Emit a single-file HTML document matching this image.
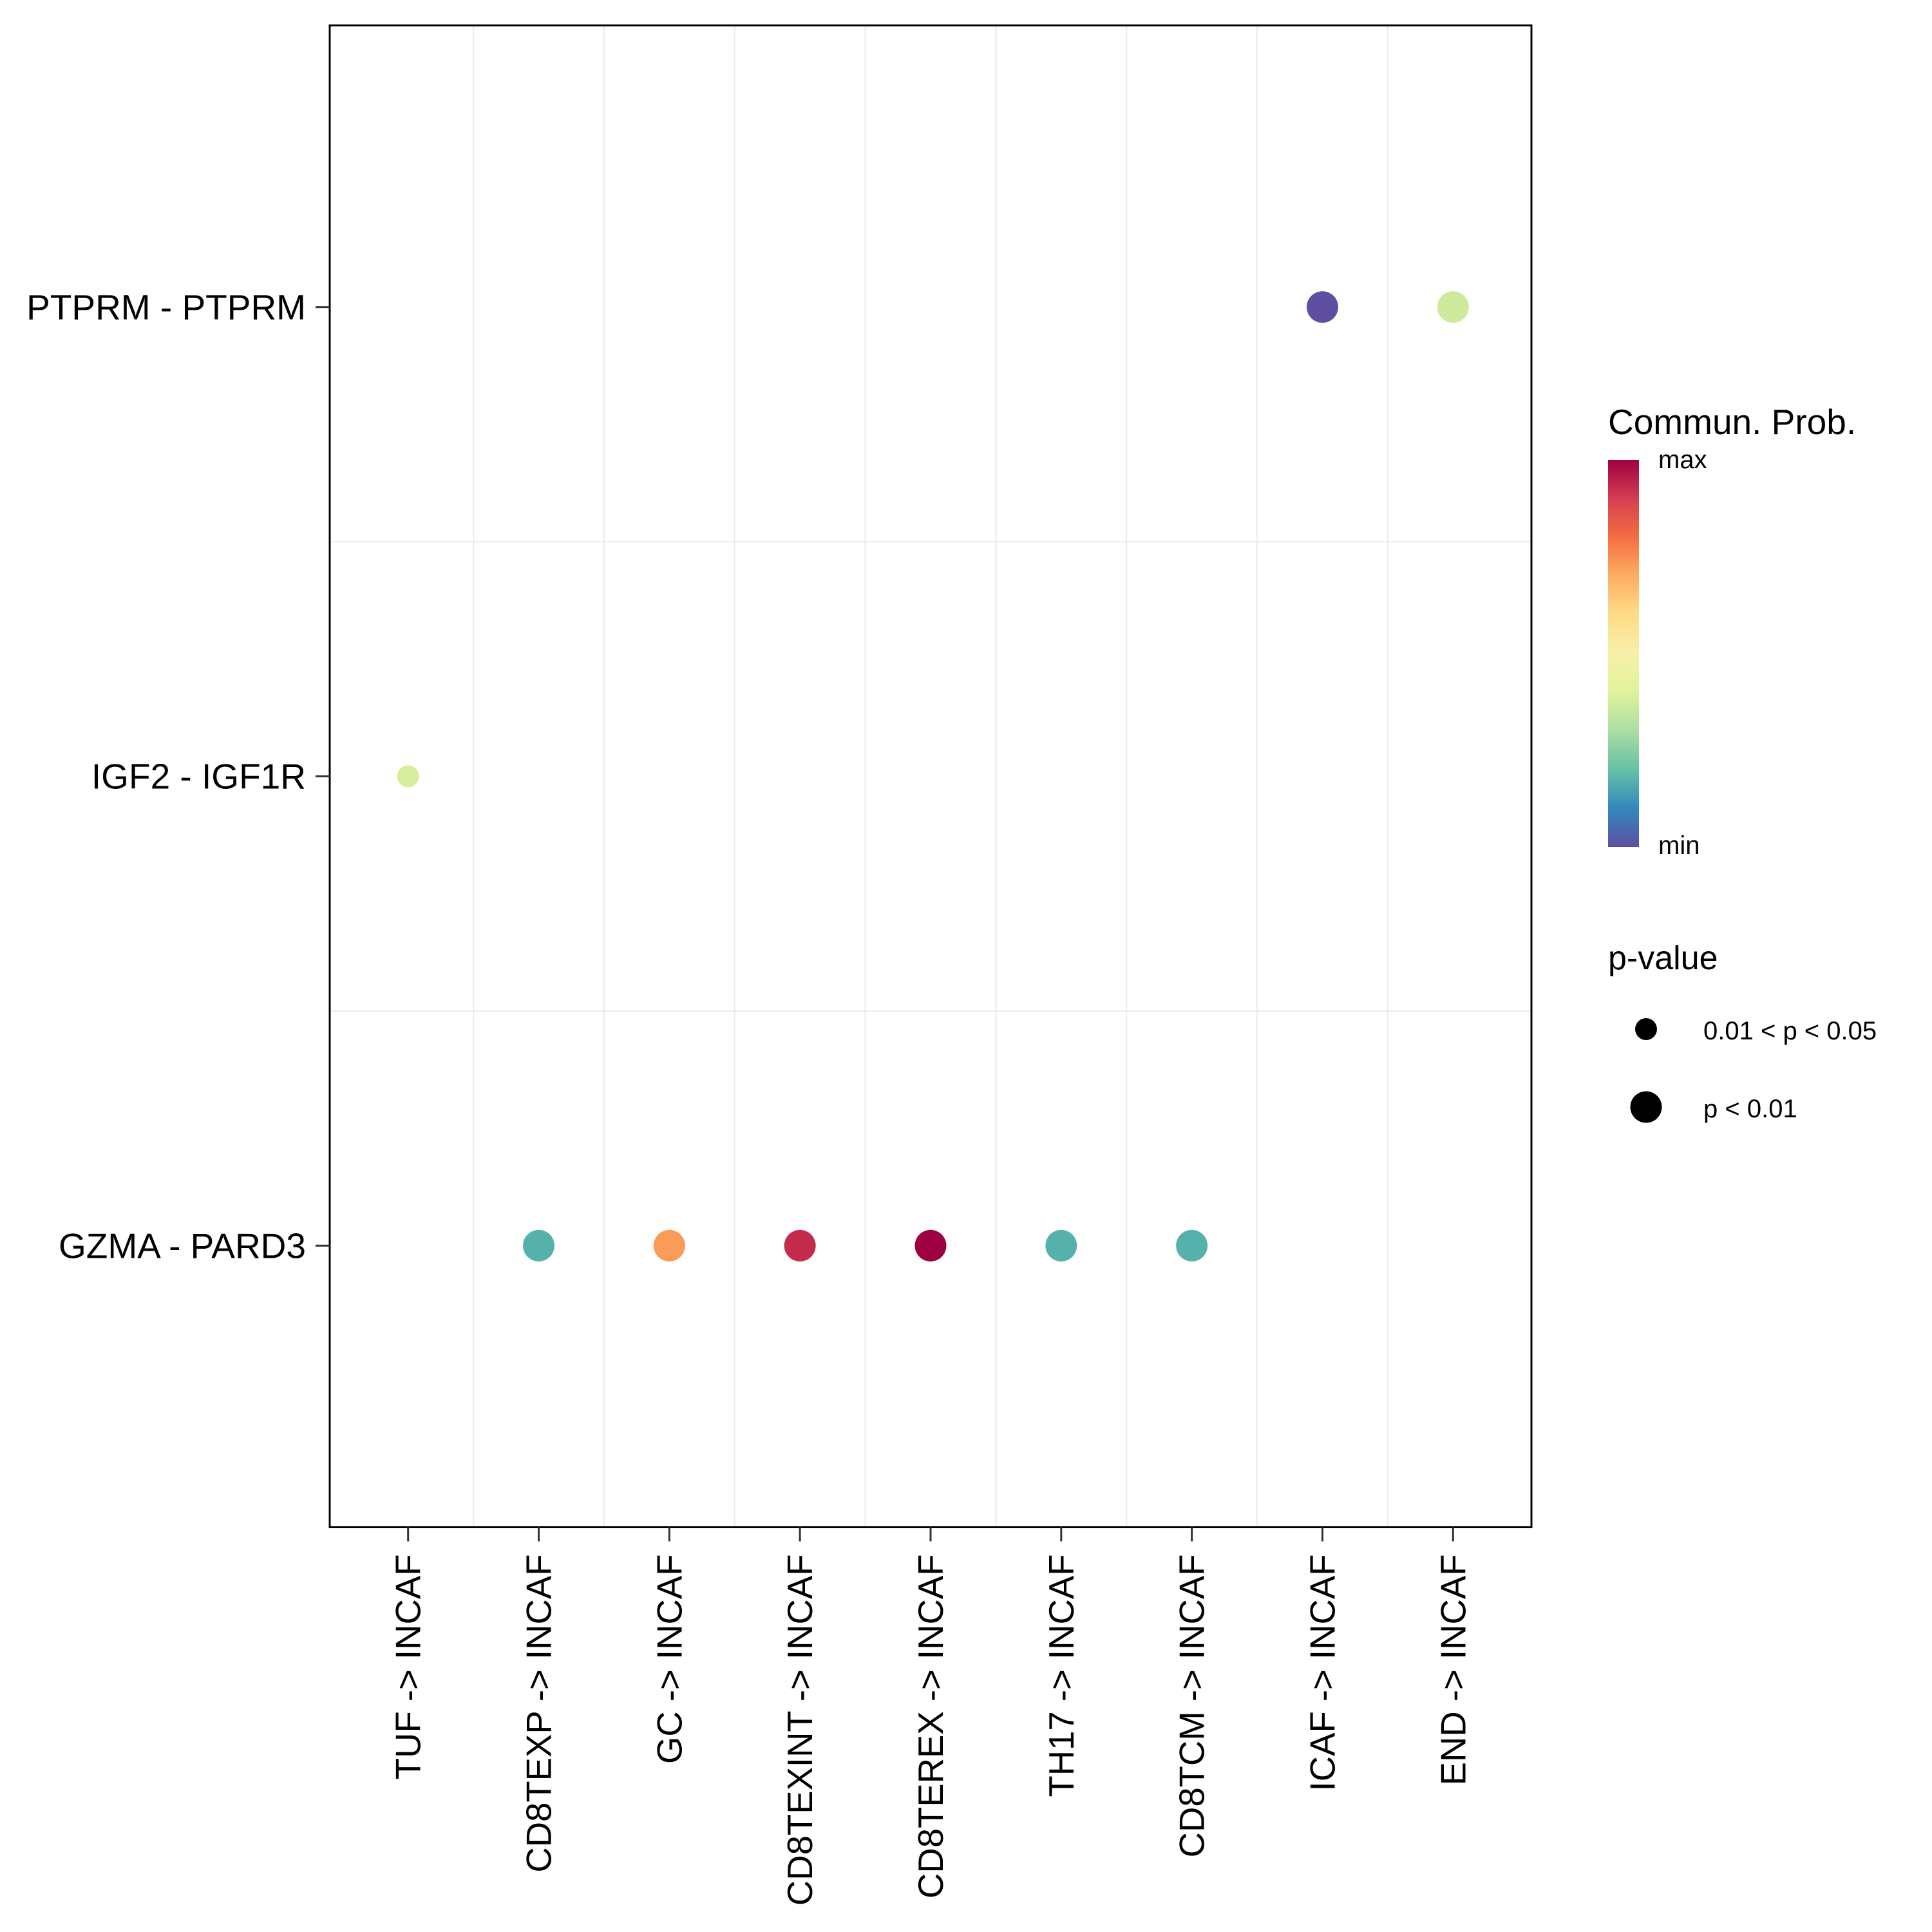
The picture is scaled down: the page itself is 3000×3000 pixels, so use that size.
<!DOCTYPE html>
<html><head><meta charset="utf-8"><style>
html,body{margin:0;padding:0;background:#fff;}
svg{display:block;font-family:"Liberation Sans",Arial,sans-serif;}
</style></head><body>
<svg id="chart" width="3000" height="3000" viewBox="0 0 3000 3000" xmlns="http://www.w3.org/2000/svg">
<defs>
<linearGradient id="spec" x1="0" y1="1" x2="0" y2="0">
<stop offset="0" stop-color="#5e4fa2"/><stop offset="0.1" stop-color="#3288bd"/><stop offset="0.2" stop-color="#66c2a5"/><stop offset="0.3" stop-color="#abdda4"/><stop offset="0.4" stop-color="#e0f39a"/><stop offset="0.5" stop-color="#f8f0a8"/><stop offset="0.6" stop-color="#fddc88"/><stop offset="0.7" stop-color="#fdae61"/><stop offset="0.8" stop-color="#f46d43"/><stop offset="0.9" stop-color="#d53e4f"/><stop offset="1" stop-color="#9e0142"/>
</linearGradient>
</defs>
<rect x="0" y="0" width="3000" height="3000" fill="#fff"/>
<g id="grid"></g>
<g id="dots"></g>
<rect x="512" y="39.5" width="1866" height="2332" fill="none" stroke="#000" stroke-width="3"/>
<g id="axes"></g>
<g>
<text x="2497" y="674" font-size="55">Commun. Prob.</text>
<rect x="2497" y="714" width="48" height="601" fill="url(#spec)"/>
<text x="2575" y="727" font-size="40">max</text>
<text x="2575" y="1326" font-size="40">min</text>
</g>
<g>
<text x="2497" y="1505" font-size="52">p-value</text>
<circle cx="2556" cy="1598" r="17" fill="#000"/>
<text x="2645" y="1614" font-size="40">0.01 &lt; p &lt; 0.05</text>
<circle cx="2556" cy="1719" r="24.5" fill="#000"/>
<text x="2645" y="1735" font-size="40">p &lt; 0.01</text>
</g>
</svg>
<script>
const xCats = ["TUF -> INCAF","CD8TEXP -> INCAF","GC -> INCAF","CD8TEXINT -> INCAF","CD8TEREX -> INCAF","TH17 -> INCAF","CD8TCM -> INCAF","ICAF -> INCAF","END -> INCAF"];
const yCats = ["PTPRM - PTPRM","IGF2 - IGF1R","GZMA - PARD3"];
const pointX = ["ICAF -> INCAF","END -> INCAF","TUF -> INCAF","CD8TEXP -> INCAF","GC -> INCAF","CD8TEXINT -> INCAF","CD8TEREX -> INCAF","TH17 -> INCAF","CD8TCM -> INCAF"];
const pointY = ["PTPRM - PTPRM","PTPRM - PTPRM","IGF2 - IGF1R","GZMA - PARD3","GZMA - PARD3","GZMA - PARD3","GZMA - PARD3","GZMA - PARD3","GZMA - PARD3"];
const probValues = [0.0,0.36,0.37,0.17,0.73,0.93,1.0,0.17,0.17];
const pSignif = ["p<0.01","p<0.01","0.01<p<0.05","p<0.01","p<0.01","p<0.01","p<0.01","p<0.01","p<0.01"];

const NS="http://www.w3.org/2000/svg";
const L=512,R=2378,T=39.5,B=2371.5;
const xStep=(R-L)/(xCats.length-1+1.2), yStep=(B-T)/(yCats.length-1+1.2);
function xPos(c){return L+0.6*xStep+xCats.indexOf(c)*xStep;}
function yPos(c){return T+0.6*yStep+yCats.indexOf(c)*yStep;}
const spectral=["#5e4fa2","#3288bd","#66c2a5","#abdda4","#e6f598","#ffffbf","#fee08b","#fdae61","#f46d43","#d53e4f","#9e0142"];
function hex(h){return [1,3,5].map(i=>parseInt(h.substr(i,2),16));}
function colorOf(v){const t=Math.max(0,Math.min(1,v))*10;const i=Math.min(9,Math.floor(t));const f=t-i;const a=hex(spectral[i]),b=hex(spectral[i+1]);return "rgb("+a.map((c,k)=>Math.round(c+(b[k]-c)*f)).join(",")+")";}
function mk(tag,attrs,parent){const e=document.createElementNS(NS,tag);for(const k in attrs)e.setAttribute(k,attrs[k]);parent.appendChild(e);return e;}
const grid=document.getElementById('grid'),dots=document.getElementById('dots'),axes=document.getElementById('axes');
for(let i=0;i<xCats.length-1;i++){const gx=xPos(xCats[i])+xStep/2;
 const g=mk('line',{x1:gx,x2:gx,y1:T,y2:B,stroke:'#ebebeb','stroke-width':2},grid);
 
 }
for(let i=0;i<yCats.length-1;i++){const gy=yPos(yCats[i])+yStep/2;
 const g=mk('line',{x1:L,x2:R,y1:gy,y2:gy,stroke:'#ebebeb','stroke-width':2},grid);
 
 }
xCats.forEach(c=>{const x=xPos(c);
 const t=mk('line',{x1:x,x2:x,y1:B,y2:B+22,stroke:'#333','stroke-width':3},axes);
 
 
 const tx=mk('text',{x:0,y:0,'font-size':54.5,'text-anchor':'end',transform:'translate('+(x+19)+','+(B+42)+') rotate(-90)'},axes);
 tx.textContent=c;
 
 });
yCats.forEach(c=>{const y=yPos(c);
 const t=mk('line',{x1:L-22,x2:L,y1:y,y2:y,stroke:'#333','stroke-width':3},axes);
 
 
 const tx=mk('text',{x:L-37,y:y+19,'font-size':55,'text-anchor':'end'},axes);
 tx.textContent=c;
 
 });
pointX.forEach((c,i)=>{
 const d=mk('circle',{cx:xPos(c),cy:yPos(pointY[i]),r:pSignif[i]==="p<0.01"?24.5:17,fill:colorOf(probValues[i])},dots);
 
 });
</script>
</body></html>
